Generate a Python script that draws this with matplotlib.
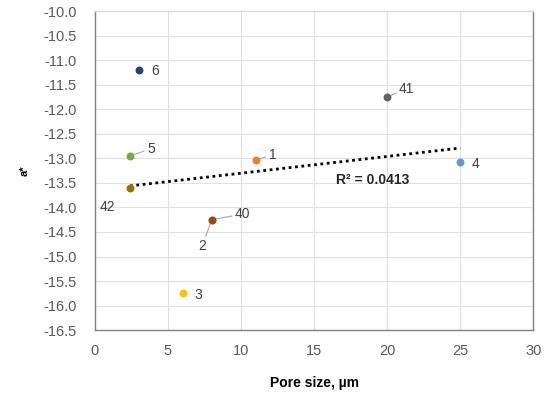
import matplotlib
matplotlib.use("Agg")
import matplotlib.pyplot as plt
import numpy as np

plt.rcParams["font.family"] = ["Liberation Sans", "DejaVu Sans"]

# data
sample_ids = ["1", "2", "3", "4", "5", "6", "40", "41", "42"]
pore_size = [11, 8, 6, 25, 2.4, 3, 8, 20, 2.4]
a_star = [-13.04, -14.25, -15.75, -13.08, -12.95, -11.2, -14.25, -11.75, -13.6]
colors = ["#ED7D31", "#A5A5A5", "#FFC000", "#5B9BD5", "#70AD47",
          "#264478", "#9E480E", "#636363", "#997300"]
r2_label = "R² = 0.0413"
# label offsets in points (dx, dy) and whether a leader line is drawn
label_offsets = {"1": (12, 4), "2": (-7, -19), "3": (11, -1), "4": (11, -1),
                 "5": (15, 5), "6": (12, -1), "40": (22, 4), "41": (14, 6),
                 "42": (-16, -14)}
leaders = {"1", "2", "5", "40", "41"}

fig = plt.figure(figsize=(5.52, 3.94), dpi=100)
ax = fig.add_axes([0.172, 0.162, 0.794, 0.81])

for sid, x, y, c in zip(sample_ids, pore_size, a_star, colors):
    ax.scatter([x], [y], s=22, color=c, zorder=4)

for sid, x, y in zip(sample_ids, pore_size, a_star):
    dx, dy = label_offsets[sid]
    props = None
    if sid in leaders:
        props = dict(arrowstyle="-", color="#a6a6a6", lw=0.8,
                     shrinkA=0, shrinkB=3)
    ax.annotate(sid, (x, y), xytext=(dx, dy), textcoords="offset points",
                ha="center", va="center", fontsize=10, color="#404040",
                arrowprops=props)

# linear trendline
k, b = np.polyfit(pore_size, a_star, 1)
xs = np.array([min(pore_size), max(pore_size)])
ax.plot(xs, k * xs + b, color="black", linestyle=(0, (1, 1.3)), lw=2, zorder=3)
ax.text(19, -13.45, r2_label, ha="center", va="center",
        fontsize=10, fontweight="bold", color="#262626")

ax.set_xlim(0, 30)
ax.set_ylim(-16.5, -10)
ax.set_xticks(np.arange(0, 31, 5))
ax.set_yticks(np.arange(-16.5, -9.9, 0.5))
ax.set_yticklabels([f"{v:.1f}" for v in np.arange(-16.5, -9.9, 0.5)])
ax.grid(True, color="#e0e0e0", lw=0.8)
ax.set_axisbelow(True)
ax.tick_params(length=0, labelsize=10.5, labelcolor="#595959")
ax.tick_params(axis="y", pad=13)
ax.tick_params(axis="x", pad=10)
for s in ax.spines.values():
    s.set_color("#808080")
    s.set_linewidth(1)
ax.spines["top"].set_color("#d9d9d9")

ax.set_xlabel("Pore size, µm", fontsize=10, fontweight="bold", labelpad=13)
ax.set_ylabel("a*", fontsize=8, fontweight="bold", labelpad=10)

fig.savefig("out.png", dpi=100)
